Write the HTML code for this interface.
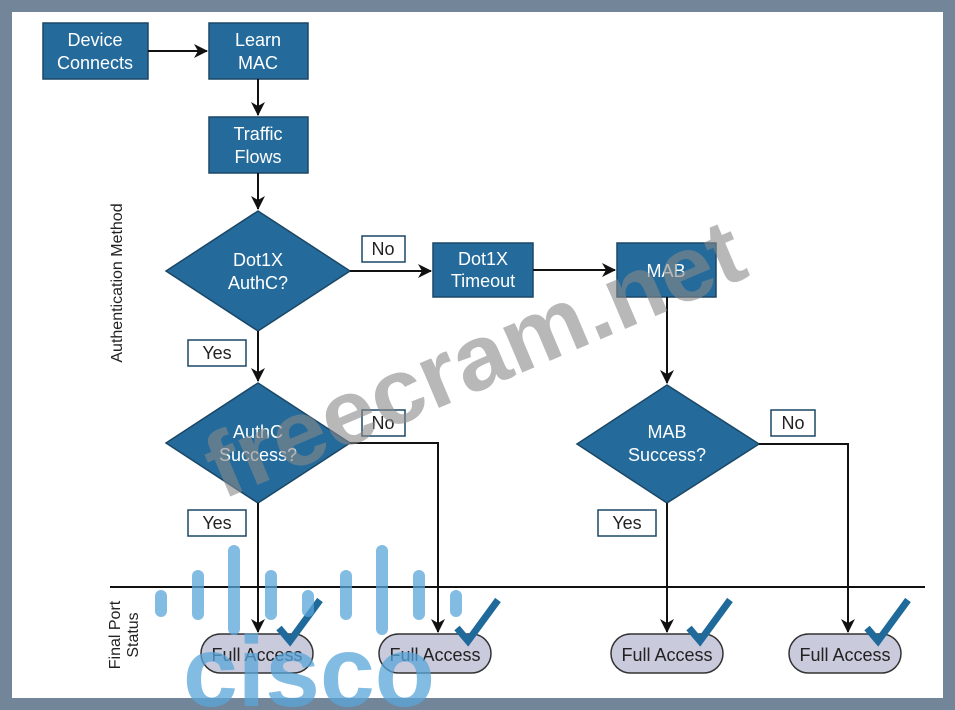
<!DOCTYPE html>
<html><head><style>
html,body{margin:0;padding:0;background:#738599;}
svg{display:block}
text{font-family:"Liberation Sans",sans-serif;}
</style></head><body>
<svg width="955" height="710" viewBox="0 0 955 710" xmlns="http://www.w3.org/2000/svg">
<defs>
<marker id="a" markerWidth="14" markerHeight="14" refX="13" refY="7" orient="auto" markerUnits="userSpaceOnUse">
<path d="M0,0 L14,7 L0,14 L4,7 z" fill="#111"/></marker>
</defs>
<rect x="0" y="0" width="955" height="710" fill="#738599"/>
<rect x="12" y="12" width="931" height="686" fill="#fff"/>
<g stroke="#1b4766" stroke-width="1.5" fill="#246b9c">
<rect x="43" y="23" width="105" height="56"/>
<rect x="209" y="23" width="99" height="56"/>
<rect x="209" y="117" width="99" height="56"/>
<rect x="433" y="243" width="100" height="54"/>
<rect x="617" y="243" width="99" height="54"/>
<polygon points="258,211 350,271 258,331 166,271"/>
<polygon points="258,383 350,443 258,503 166,443"/>
<polygon points="667,385 759,444 667,503 577,444"/>
</g>
<g fill="#fff" font-size="18" text-anchor="middle">
<text x="95" y="46">Device</text><text x="95" y="69">Connects</text>
<text x="258" y="46">Learn</text><text x="258" y="69">MAC</text>
<text x="258" y="140">Traffic</text><text x="258" y="163">Flows</text>
<text x="483" y="265">Dot1X</text><text x="483" y="287">Timeout</text>
<text x="666" y="277">MAB</text>
<text x="258" y="266">Dot1X</text><text x="258" y="289">AuthC?</text>
<text x="258" y="438">AuthC</text><text x="258" y="461">Success?</text>
<text x="667" y="438">MAB</text><text x="667" y="461">Success?</text>
</g>
<g stroke="#111" stroke-width="2" fill="none">
<line x1="148" y1="51" x2="207" y2="51" marker-end="url(#a)"/>
<line x1="258" y1="79" x2="258" y2="115" marker-end="url(#a)"/>
<line x1="258" y1="173" x2="258" y2="209" marker-end="url(#a)"/>
<line x1="350" y1="271" x2="431" y2="271" marker-end="url(#a)"/>
<line x1="533" y1="270" x2="615" y2="270" marker-end="url(#a)"/>
<line x1="667" y1="297" x2="667" y2="383" marker-end="url(#a)"/>
<line x1="258" y1="331" x2="258" y2="381" marker-end="url(#a)"/>
<polyline points="350,443 438,443 438,632" marker-end="url(#a)"/>
<line x1="258" y1="503" x2="258" y2="632" marker-end="url(#a)"/>
<line x1="667" y1="503" x2="667" y2="632" marker-end="url(#a)"/>
<polyline points="759,444 848,444 848,632" marker-end="url(#a)"/>
<line x1="110" y1="587" x2="925" y2="587"/>
</g>
<g stroke="#1b4766" stroke-width="1.5" fill="#fff">
<rect x="362" y="236" width="43" height="26"/>
<rect x="188" y="340" width="58" height="26"/>
<rect x="362" y="410" width="43" height="26"/>
<rect x="188" y="510" width="58" height="26"/>
<rect x="771" y="410" width="44" height="26"/>
<rect x="598" y="510" width="58" height="26"/>
</g>
<g fill="#222" font-size="18" text-anchor="middle">
<text x="383" y="255">No</text><text x="217" y="359">Yes</text>
<text x="383" y="429">No</text><text x="217" y="529">Yes</text>
<text x="793" y="429">No</text><text x="627" y="529">Yes</text>
</g>
<g stroke="#333" stroke-width="1.5" fill="#c9cbdc">
<rect x="201" y="634" width="112" height="39" rx="19.5"/>
<rect x="379" y="634" width="112" height="39" rx="19.5"/>
<rect x="611" y="634" width="112" height="39" rx="19.5"/>
<rect x="789" y="634" width="112" height="39" rx="19.5"/>
</g>
<g fill="#222" font-size="18" text-anchor="middle">
<text x="257" y="661">Full Access</text><text x="435" y="661">Full Access</text>
<text x="667" y="661">Full Access</text><text x="845" y="661">Full Access</text>
</g>
<g stroke="#1f6a9a" stroke-width="7" fill="none" stroke-linejoin="miter">
<polyline points="279,628 290,641 320,600"/>
<polyline points="457,628 468,641 498,600"/>
<polyline points="689,628 700,641 730,600"/>
<polyline points="867,628 878,641 908,600"/>
</g>
<g fill="#222" font-size="16" text-anchor="middle">
<text transform="translate(122,283) rotate(-90)">Authentication Method</text>
<text transform="translate(120,635) rotate(-90)">Final Port</text>
<text transform="translate(138,635) rotate(-90)">Status</text>
</g>
<text transform="translate(222,500) rotate(-23)" font-size="92" font-weight="bold" fill="#888" fill-opacity="0.6" textLength="575" lengthAdjust="spacingAndGlyphs">freecram.net</text>
<g fill="#5aa6da" fill-opacity="0.75">
<rect x="155" y="590" width="12" height="27" rx="6"/>
<rect x="192" y="570" width="12" height="50" rx="6"/>
<rect x="228" y="545" width="12" height="90" rx="6"/>
<rect x="265" y="570" width="12" height="50" rx="6"/>
<rect x="302" y="590" width="12" height="27" rx="6"/>
<rect x="340" y="570" width="12" height="50" rx="6"/>
<rect x="376" y="545" width="12" height="90" rx="6"/>
<rect x="413" y="570" width="12" height="50" rx="6"/>
<rect x="450" y="590" width="12" height="27" rx="6"/>
<text x="183" y="706" font-size="100" font-weight="bold" textLength="252" lengthAdjust="spacingAndGlyphs">cisco</text>
</g>
</svg>
</body></html>
